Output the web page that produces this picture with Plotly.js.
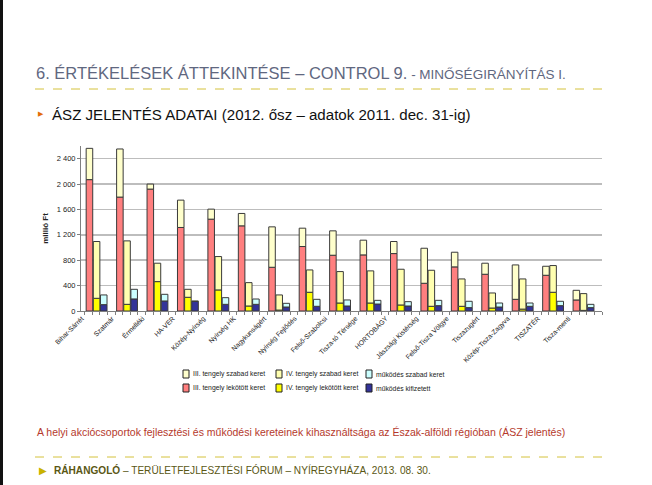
<!DOCTYPE html>
<html>
<head>
<meta charset="utf-8">
<script src="https://cdn.plot.ly/plotly-3.0.1.min.js"></script>
<style>
html,body{margin:0;padding:0;background:#fff;}
#chart{width:652px;height:485px;}
</style>
</head>
<body>
<div id="chart"></div>
<script>
const categories = ['Bihar-Sárrét','Szatmár','Érmelléki','HA-VER','Közép-Nyírség','Nyírség HK','Nagykunságért','Nyírség Fejlődés','Felső-Szabolcsi','Tisza-tó Térsége','HORTOBÁGY','Jászsági Kistérség','Felső-Tisza Völgye','Tiszazugért','Közép-Tisza-Zagyva','TISZATÉR','Tisza-menti'];

const iiiLekotott = [2070,1795,1921,1316,1447,1342,689,1016,879,884,905,437,695,579,184,563,174];
const iiiSzabad   = [493,758,79,431,158,195,637,289,384,232,190,552,231,174,542,142,152];
const ivLekotott  = [200,105,463,216,332,79,15,295,126,126,95,74,74,47,30,295,10];
const ivSzabad    = [895,1000,290,126,526,368,238,352,495,506,563,568,431,237,475,421,264];
const mukKifizetett = [100,190,158,150,105,105,63,74,79,110,79,84,53,63,74,84,53];
const mukSzabad     = [153,152,105,8,105,84,58,110,95,58,68,84,100,63,52,69,52];

const yTicks = [0,400,800,1200,1600,2000,2400];

const seriesNames = ['III. tengely szabad keret','IV. tengely szabad keret','működés szabad keret',
                     'III. tengely lekötött keret','IV. tengely lekötött keret','működés kifizetett'];
const seriesColors = ['#ffffcc','#ffffb0','#ccffff','#ff7f7f','#ffff00','#333399'];

const idx = categories.map((c,i)=>i);
const FONT = "'Liberation Sans', Arial, sans-serif";
const LINE = {color:'#3a3a3a', width:1};
const W = 0.215;

function bar(k, y, base, offset){
  return {type:'bar', name:seriesNames[k], x:idx, y:y, base:base, offset:offset, width:W,
    marker:{color:seriesColors[k], line:LINE}, showlegend:false, hoverinfo:'skip'};
}

const traces = [
  bar(3, iiiLekotott, undefined, -0.45),
  bar(0, iiiSzabad, iiiLekotott, -0.45),
  bar(4, ivLekotott, undefined, -0.215),
  bar(1, ivSzabad, ivLekotott, -0.215),
  bar(5, mukKifizetett, undefined, 0.02),
  bar(2, mukSzabad, mukKifizetett, 0.02)
];

const L = 81, R = 50, T = 146, B = 174;
const px = v => (v-L)/(652-L-R);
const py = v => (485-B-v)/(485-T-B);

// legend (drawn as swatches + labels, 3 columns x 2 rows)
const legCols = [183, 276, 366];
const legRows = [374, 388];
const legShapes = [], legAnns = [];
seriesNames.forEach((n,k)=>{
  const cx = legCols[k%3], cy = legRows[Math.floor(k/3)];
  legShapes.push({type:'rect', xref:'paper', yref:'paper', x0:px(cx), x1:px(cx+6), y0:py(cy+4), y1:py(cy-4),
    fillcolor:seriesColors[k], line:{color:'#222', width:1}});
  legAnns.push({xref:'paper', yref:'paper', x:px(cx+8), y:py(cy), xanchor:'left', yanchor:'middle', showarrow:false,
    text:n, font:{family:FONT, size:6.8, color:'#222'}});
});

const layout = {
  width:652, height:485,
  margin:{l:L, r:R, t:T, b:B},
  paper_bgcolor:'#ffffff', plot_bgcolor:'#ffffff',
  barmode:'overlay',
  separators:', ',
  font:{family:FONT, color:'#222'},
  showlegend:false,
  xaxis:{
    type:'linear', range:[-0.62,16.5],
    tickmode:'array', tickvals:idx.map(i=>i-0.6), ticktext:categories,
    tickangle:-45, ticks:'', tickfont:{family:FONT, size:6.8, color:'#222'},
    showline:true, linecolor:'#7f7f7f', linewidth:1,
    showgrid:false, zeroline:false, fixedrange:true,
    minor:{tickmode:'linear', tick0:-0.5, dtick:0.25, ticks:'outside', ticklen:3, tickcolor:'#7f7f7f', showgrid:false}
  },
  yaxis:{
    range:[0,2600], tickmode:'array', tickvals:yTicks, separatethousands:true,
    ticks:'outside', ticklen:3, tickcolor:'#7f7f7f',
    tickfont:{family:FONT, size:7.5, color:'#222'},
    showline:true, linecolor:'#7f7f7f', linewidth:1,
    gridcolor:'#bdbdbd', gridwidth:1.5, zeroline:false,
    title:{text:'<b>millió Ft</b>', font:{family:FONT, size:8, color:'#222'}, standoff:6}
  },
  shapes:[
    {type:'rect', xref:'paper', yref:'paper', x0:px(0), x1:px(3), y0:py(485), y1:py(0), fillcolor:'#111', line:{width:0}},
    {type:'line', xref:'paper', yref:'paper', x0:px(35), x1:px(605), y0:py(89), y1:py(89), line:{color:'#d4c23c', width:1, dash:'dash'}},
    {type:'line', xref:'paper', yref:'paper', x0:px(35), x1:px(605), y0:py(457), y1:py(457), line:{color:'#d4c23c', width:1, dash:'dash'}}
  ].concat(legShapes),
  annotations:[
    {xref:'paper', yref:'paper', x:px(34), y:py(73), xanchor:'left', yanchor:'middle', showarrow:false,
     text:"6. ÉRTÉKELÉSEK ÁTTEKINTÉSE – CONTROL 9.<span style='font-size:13.5px'> - MINŐSÉGIRÁNYÍTÁS I.</span>",
     font:{family:FONT, size:16.5, color:'#5f6780'}},
    {xref:'paper', yref:'paper', x:px(36), y:py(114), xanchor:'left', yanchor:'middle', showarrow:false,
     text:'▶', font:{family:'DejaVu Sans', size:7, color:'#e36c09'}},
    {xref:'paper', yref:'paper', x:px(50), y:py(114), xanchor:'left', yanchor:'middle', showarrow:false,
     text:'ÁSZ JELENTÉS ADATAI (2012. ősz – adatok 2011. dec. 31-ig)', font:{family:FONT, size:15.1, color:'#111'}},
    {xref:'paper', yref:'paper', x:px(35), y:py(432), xanchor:'left', yanchor:'middle', showarrow:false,
     text:'A helyi akciócsoportok fejlesztési és működési kereteinek kihasználtsága az Észak-alföldi régióban (ÁSZ jelentés)',
     font:{family:FONT, size:10.5, color:'#b5392c'}},
    {xref:'paper', yref:'paper', x:px(37), y:py(470), xanchor:'left', yanchor:'middle', showarrow:false,
     text:'▶', font:{family:'DejaVu Sans', size:10, color:'#c9b200'}},
    {xref:'paper', yref:'paper', x:px(52), y:py(470), xanchor:'left', yanchor:'middle', showarrow:false,
     text:'<b>RÁHANGOLÓ</b> – TERÜLETFEJLESZTÉSI FÓRUM – NYÍREGYHÁZA, 2013. 08. 30.',
     font:{family:FONT, size:10.1, color:'#5a5714'}}
  ].concat(legAnns)
};

Plotly.newPlot('chart', traces, layout, {displayModeBar:false, staticPlot:true});
</script>
</body>
</html>
